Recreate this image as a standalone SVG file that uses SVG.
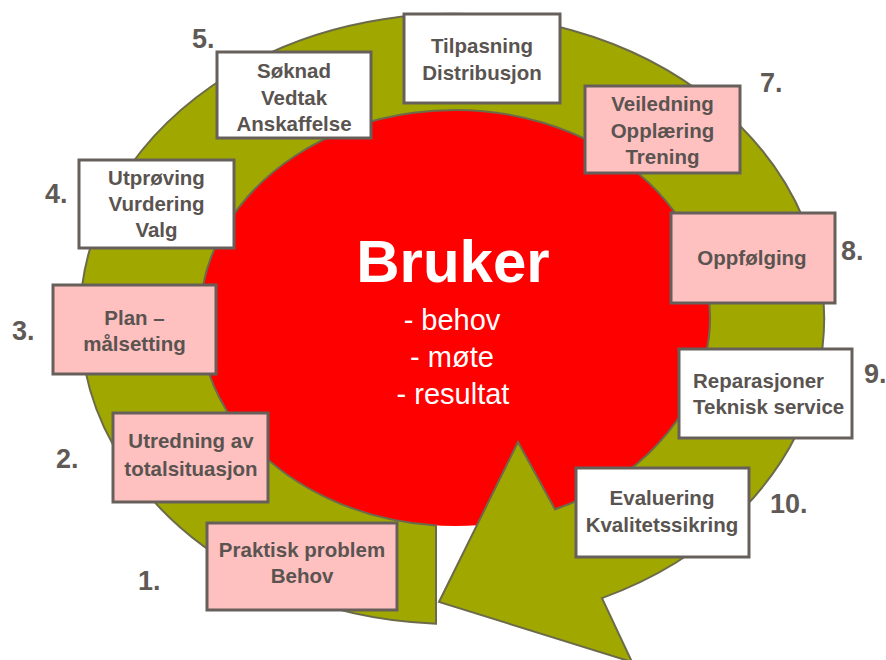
<svg xmlns="http://www.w3.org/2000/svg" width="886" height="660" viewBox="0 0 886 660">
<style>
.box{stroke:#67605a;stroke-width:3}
.w{fill:#ffffff}
.p{fill:#ffc0c0}
.t{font-family:"Liberation Sans",Arial,sans-serif;font-weight:bold;font-size:20.5px;fill:#5a5451;text-anchor:middle}
.s{text-anchor:start}
.n{font-family:"Liberation Sans",Arial,sans-serif;font-weight:bold;font-size:27px;fill:#5f5a56}
.c{font-family:"Liberation Sans",Arial,sans-serif;fill:#ffffff;text-anchor:middle}
</style>
<rect width="886" height="660" fill="#ffffff"/>
<g id="center">
<ellipse cx="455" cy="318" rx="255" ry="208" fill="#ff0000"/>
</g>
<g id="connectors">
<path d="M436,623.7 A372,305 0 1 1 602,598.1 L632,662 L439,602 L518,442 L555,509.3 A255,208 0 1 0 436,525.4 Z" fill="#a0a800" stroke="#6b6a4a" stroke-width="2" stroke-linejoin="miter"/>
</g>
<g id="center-text">
<text class="c" x="453" y="282" font-size="60" font-weight="bold">Bruker</text>
<text class="c" x="452" y="330" font-size="29">- behov</text>
<text class="c" x="452" y="367" font-size="29">- møte</text>
<text class="c" x="453" y="404" font-size="29">- resultat</text>
</g>
<g id="n1"><rect class="box p" x="207" y="523" width="190" height="87"/><text class="t" x="302" y="557">Praktisk problem</text><text class="t" x="302" y="583">Behov</text><text class="n" x="138" y="590">1.</text></g>
<g id="n2"><rect class="box p" x="113" y="413" width="155" height="89"/><text class="t" x="191" y="448">Utredning av</text><text class="t" x="191" y="476">totalsituasjon</text><text class="n" x="56" y="468">2.</text></g>
<g id="n3"><rect class="box p" x="53" y="285" width="163" height="89"/><text class="t" x="134.5" y="325">Plan –</text><text class="t" x="134.5" y="351">målsetting</text><text class="n" x="12" y="340">3.</text></g>
<g id="n4"><rect class="box w" x="79" y="160" width="155" height="88"/><text class="t" x="156.5" y="185">Utprøving</text><text class="t" x="156.5" y="211">Vurdering</text><text class="t" x="156.5" y="237">Valg</text><text class="n" x="45" y="203">4.</text></g>
<g id="n5"><rect class="box w" x="217" y="52" width="154" height="86"/><text class="t" x="294" y="78">Søknad</text><text class="t" x="294" y="104.5">Vedtak</text><text class="t" x="294" y="131">Anskaffelse</text><text class="n" x="192" y="48">5.</text></g>
<g id="n6"><rect class="box w" x="404" y="14" width="156" height="89"/><text class="t" x="482" y="53">Tilpasning</text><text class="t" x="482" y="80">Distribusjon</text></g>
<g id="n7"><rect class="box p" x="585" y="86" width="155" height="87"/><text class="t" x="662.5" y="111">Veiledning</text><text class="t" x="662.5" y="138">Opplæring</text><text class="t" x="662.5" y="164">Trening</text><text class="n" x="760" y="92">7.</text></g>
<g id="n8"><rect class="box p" x="671" y="213" width="164" height="90"/><text class="t" x="752" y="265">Oppfølging</text><text class="n" x="841" y="260">8.</text></g>
<g id="n9"><rect class="box w" x="679" y="349" width="173" height="89"/><text class="t s" x="693" y="388">Reparasjoner</text><text class="t s" x="693" y="414">Teknisk service</text><text class="n" x="864" y="383">9.</text></g>
<g id="n10"><rect class="box w" x="576" y="468" width="173" height="89"/><text class="t" x="662" y="505">Evaluering</text><text class="t" x="662" y="532">Kvalitetssikring</text><text class="n" x="770" y="513">10.</text></g>
</svg>
